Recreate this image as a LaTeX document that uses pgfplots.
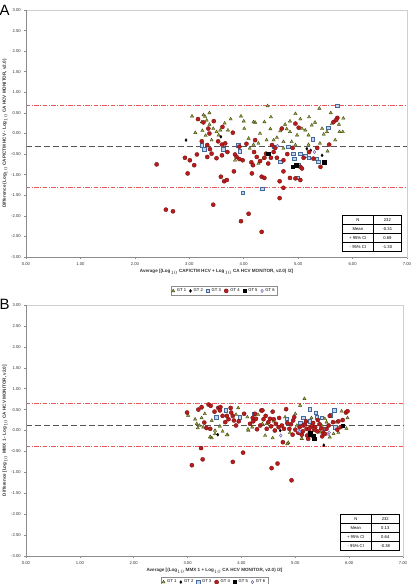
\documentclass[border=0pt]{standalone}
\usepackage{pgfplots}
\pgfplotsset{compat=1.18}
\usepackage{fontspec}
\setmainfont{Liberation Sans}
\usepackage{array}

\definecolor{gtone}{HTML}{A3A83A}
\definecolor{gtoneedge}{HTML}{3A4412}
\definecolor{gtfour}{HTML}{B81C1C}
\definecolor{gtfouredge}{HTML}{6E0C0C}
\definecolor{gtthree}{HTML}{C3D6EE}
\definecolor{gtthreeedge}{HTML}{44699A}
\definecolor{gtsix}{HTML}{DCD0F2}
\definecolor{gtsixedge}{HTML}{6A5AA8}
\definecolor{limitred}{HTML}{E8585C}
\definecolor{meangray}{HTML}{555555}
\definecolor{axisgray}{HTML}{8C8C8C}
\definecolor{framegray}{HTML}{CFCFCF}
\definecolor{textgray}{HTML}{333333}

\newcommand{\tickfont}{\fontsize{4.2}{5}\selectfont}
\newcommand{\labfont}{\fontsize{4.6}{5.5}\selectfont\bfseries}

\pgfplotsset{
  gtp/.style={only marks,
    legend image code/.code={\draw[mark repeat=2,mark phase=2,##1]
      plot coordinates {(0cm,0cm) (0.07cm,0cm) (0.14cm,0cm)};}},
  gt1/.style={gtp, mark=triangle*, mark size=1.9pt,
    mark options={fill=gtone, draw=gtoneedge, line width=0.35pt}},
  gt2/.style={gtp, mark=diamond*, mark size=1.6pt,
    mark options={fill=black, draw=black, line width=0.2pt}},
  gt3/.style={gtp, mark=square*, mark size=1.75pt,
    mark options={fill=gtthree, draw=gtthreeedge, line width=0.45pt}},
  gt4/.style={gtp, mark=*, mark size=2.1pt,
    mark options={fill=gtfour, draw=gtfouredge, line width=0.3pt}},
  gt5/.style={gtp, mark=square*, mark size=1.75pt,
    mark options={fill=black, draw=black, line width=0.3pt}},
  gt6/.style={gtp, mark=diamond*, mark size=1.8pt,
    mark options={fill=gtsix, draw=gtsixedge, line width=0.35pt}},
  limitline/.style={draw=limitred, line width=0.8pt,
    dash pattern=on 4.5pt off 1.5pt on 1pt off 1.5pt, forget plot},
  meanline/.style={draw=meangray, line width=0.6pt,
    dash pattern=on 6pt off 3pt, forget plot},
  blandaltman/.style={
    scale only axis,
    xmin=0, xmax=7, ymin=-3, ymax=3,
    xtick={0,1,2,3,4,5,6,7},
    ytick={-3,-2.5,-2,-1.5,-1,-0.5,0,0.5,1,1.5,2,2.5,3},
    xtick pos=bottom, ytick pos=left,
    tick align=outside,
    major tick length=2.2bp,
    tick style={axisgray, line width=0.5pt},
    axis line style={framegray, line width=0.6pt},
    tick label style={font=\tickfont, text=textgray},
    /pgf/number format/.cd, fixed, fixed zerofill, precision=2,
      assume math mode=true,
    /pgfplots/.cd,
    xticklabel style={yshift=0.5bp},
    yticklabel style={xshift=0.5bp},
    xlabel style={font=\labfont, text=textgray, yshift=2.5bp},
    ylabel style={font=\labfont, text=textgray, yshift=-3bp},
    legend style={font=\fontsize{4.2}{5}\selectfont, draw=axisgray,
      line width=0.4pt, inner sep=0.6pt, legend columns=6,
      /tikz/every even column/.append style={column sep=1.2pt}},
    legend cell align=left,
    clip=false,
  },
}

\pgfplotstableread{
x y
3.05 0.42
3.26 0.45
3.29 0.41
3.37 0.50
3.32 0.32
3.23 0.28
3.37 0.22
3.44 0.12
3.11 0.02
3.24 0.07
3.50 0.04
3.54 -0.04
3.57 0.08
3.71 0.08
3.76 0.35
3.95 0.42
4.01 0.12
4.09 -0.12
4.11 -0.36
3.84 -0.65
4.21 0.27
3.41 -0.16
4.44 0.67
5.39 0.61
4.38 0.28
4.49 0.11
4.30 0.00
4.18 -0.27
4.27 -0.24
4.42 -0.16
4.61 -0.10
4.67 0.06
4.73 -0.20
4.79 0.11
4.85 0.04
4.88 -0.20
4.98 -0.04
5.04 0.35
5.07 0.12
5.13 0.08
5.19 -0.04
5.25 0.20
5.31 0.27
5.44 0.12
5.47 -0.02
5.53 0.04
5.62 0.24
5.68 -0.16
5.76 0.04
5.83 0.37
5.82 0.04
5.54 -0.43
4.27 -0.73
4.36 -0.61
4.73 -0.36
4.95 -0.28
4.55 -0.16
5.40 -0.24
5.19 -0.27
4.76 0.22
4.85 0.30
4.18 0.28
3.65 0.25
4.00 0.30
4.50 0.40
4.95 0.48
5.20 0.40
5.60 0.50
5.75 0.22
3.30 -0.05
}\AgtOne

\pgfplotstableread{
x y
2.94 -0.16
3.58 -0.08
5.16 -0.37
5.23 -0.41
5.44 -0.53
}\AgtTwo

\pgfplotstableread{
x y
3.23 -0.28
3.27 -0.38
3.62 -0.38
3.90 -0.28
3.93 -0.43
3.98 -1.44
4.56 -0.32
4.67 -0.69
4.82 -0.32
4.91 -0.49
4.93 -0.61
5.01 -0.77
5.04 -0.49
5.13 -0.54
5.19 -0.59
5.27 -0.14
5.34 -0.61
5.37 -0.69
5.55 0.14
4.99 -1.08
4.34 -1.34
5.72 0.67
}\AgtThree

\pgfplotstableread{
x y
3.16 0.35
3.26 0.27
3.35 0.12
3.37 0.00
3.61 0.16
3.23 -0.19
3.33 -0.28
3.38 -0.38
3.41 -0.49
3.33 -0.57
3.14 -0.51
2.92 -0.59
3.01 -0.65
3.09 -0.77
2.97 -0.97
2.40 -0.75
3.53 -0.19
3.60 -0.27
3.66 -0.24
3.60 -0.53
3.84 -0.51
3.87 -0.57
3.92 -0.62
3.98 -0.65
3.92 -0.32
3.82 -0.92
3.58 -1.05
3.64 -1.16
3.69 -1.13
4.14 -0.70
4.15 -0.97
4.19 -0.45
2.57 -1.85
2.70 -1.89
3.44 -1.73
4.09 -1.95
3.95 -2.13
4.95 0.24
5.01 0.14
4.70 0.12
5.65 0.28
5.72 0.38
5.70 0.33
5.57 -0.27
4.24 -0.57
4.30 -0.67
4.38 -0.59
4.41 -0.49
4.45 -0.73
4.17 -0.77
4.33 -1.05
4.38 -1.08
4.66 -1.16
4.73 -1.32
4.66 -1.57
4.33 -2.39
4.52 -0.28
4.58 -0.35
4.73 -0.65
4.73 -0.92
4.95 -1.09
5.04 -1.13
5.04 -0.81
5.10 -0.59
5.07 -0.85
5.28 -0.61
5.41 -0.81
4.85 -1.08
4.61 -0.59
4.50 -0.59
4.21 -0.16
4.55 -0.45
4.80 -0.50
4.90 -0.35
5.20 -0.45
5.35 -0.35
3.70 -0.45
3.50 -0.60
4.05 -0.25
3.80 0.02
3.45 0.30
}\AgtFour

\pgfplotstableread{
x y
4.45 -0.49
4.90 -0.81
4.96 -0.77
5.48 -0.70
}\AgtFive

\pgfplotstableread{
x y
4.62 -0.30
5.30 -0.45
}\AgtSix

\pgfplotstableread{
x y
3.01 0.36
3.14 0.27
3.17 0.16
3.22 0.12
3.26 0.30
3.32 0.40
3.29 0.08
3.19 0.06
3.45 0.24
3.51 0.00
3.51 -0.08
3.42 -0.16
3.45 -0.18
3.65 -0.02
3.74 -0.10
3.94 0.54
4.11 0.32
4.13 0.00
4.31 0.38
4.44 -0.12
4.39 0.16
5.17 0.76
5.09 0.60
4.58 -0.18
4.87 -0.29
5.12 -0.20
5.37 -0.20
5.64 -0.16
5.71 -0.08
5.86 0.46
5.97 0.30
4.81 0.32
5.49 0.12
5.58 0.20
5.76 0.20
5.03 0.12
5.46 -0.04
4.47 0.16
3.42 -0.15
3.73 -0.11
4.12 0.03
4.85 -0.32
5.12 -0.19
5.35 -0.21
5.95 0.05
4.60 0.22
4.90 -0.05
5.00 0.40
5.30 0.30
5.55 0.28
5.80 -0.05
4.20 0.08
3.90 0.38
3.60 0.10
}\BgtOne

\pgfplotstableread{
x y
3.27 0.54
3.56 -0.10
5.53 -0.35
4.72 0.00
}\BgtTwo

\pgfplotstableread{
x y
3.53 0.32
3.71 0.48
3.97 0.32
4.23 0.40
5.27 0.51
5.38 0.43
5.40 0.32
5.49 0.30
5.66 0.36
5.72 0.48
4.84 0.28
5.15 0.30
5.27 0.22
5.09 0.19
5.55 0.04
5.74 0.08
5.08 -0.04
}\BgtThree

\pgfplotstableread{
x y
2.99 0.43
3.26 0.56
3.39 0.62
3.43 0.59
3.57 0.54
3.61 0.56
3.60 0.48
3.65 0.35
3.73 0.35
3.76 0.27
3.81 0.43
3.84 0.35
3.86 0.24
3.90 0.12
3.80 0.54
3.31 0.19
3.35 0.06
3.42 0.04
3.25 -0.42
3.28 -0.69
3.08 -0.83
4.03 -0.53
3.84 -0.75
4.16 0.16
4.21 0.30
4.27 0.28
4.29 0.03
4.37 0.48
4.22 0.22
4.39 0.48
4.83 0.51
4.53 0.28
4.60 0.27
4.64 0.16
4.69 0.08
4.75 0.12
4.79 0.04
4.96 0.24
4.95 -0.10
5.12 -0.10
5.21 0.04
5.27 -0.04
5.37 0.08
5.41 -0.02
5.52 -0.05
5.64 0.35
5.80 0.22
5.84 0.08
5.94 0.43
5.97 0.46
4.77 -0.28
4.67 -0.79
4.56 -0.90
4.93 -1.19
4.41 0.27
4.47 0.04
4.89 0.04
5.15 0.12
5.31 -0.12
5.24 -0.20
5.58 0.04
5.00 0.02
5.05 -0.05
5.18 0.15
5.22 -0.12
5.30 0.10
5.35 0.02
5.45 0.15
5.50 -0.14
4.92 0.15
4.55 0.10
4.62 0.00
4.50 0.20
4.25 0.40
4.35 0.12
4.45 0.35
4.58 0.45
4.70 0.30
4.85 0.18
4.98 0.32
5.08 0.08
5.14 -0.02
5.20 0.22
5.26 0.05
5.33 0.18
5.42 0.25
5.48 0.05
5.55 -0.08
5.62 0.12
5.70 0.20
5.78 0.02
5.88 0.25
3.95 0.22
4.05 0.40
3.70 0.20
3.50 0.45
3.20 0.50
}\BgtFour

\pgfplotstableread{
x y
5.27 -0.10
5.34 -0.12
5.88 0.11
5.35 -0.20
5.28 -0.05
}\BgtFive

\pgfplotstableread{
x y
4.73 -0.12
5.08 -0.02
5.61 -0.08
5.05 0.00
5.63 -0.05
}\BgtSix

% summary box drawn in the lower right corner of each panel
\newcommand{\statbox}[4]{%
  {\fontsize{4.2}{5}\selectfont\color{black}%
  \renewcommand{\arraystretch}{1.7}%
  \setlength{\arrayrulewidth}{0.5pt}%
  \begin{tabular}{|@{}wc{30bp}@{}|@{}wc{28bp}@{}|}
  \hline
  N & #1\\ \hline
  Mean & #2\\ \hline
  + 95\% CI & #3\\ \hline
  - 95\% CI & #4\\ \hline
  \end{tabular}}}

\begin{document}
\begin{tikzpicture}
\path[use as bounding box] (0bp,0bp) rectangle (411bp,584bp);

\node[anchor=base west, inner sep=0, font=\fontsize{15}{15}\selectfont] at (-0.5bp,568bp) {A};
\node[anchor=base west, inner sep=0, font=\fontsize{15}{15}\selectfont] at (-0.5bp,274bp) {B};

% ---- Panel A: CAP/CTM vs CA HCV MONITOR
\begin{axis}[blandaltman,
  width=381bp, height=247bp,
  at={(26bp,327bp)}, anchor=south west,
  xlabel={Average [(Log$_{10}$ CAP/CTM HCV + Log$_{10}$ CA HCV MONITOR, v2.0) /2]},
  ylabel={Difference (Log$_{10}$ CAP/CTM HCV - Log$_{10}$ CA HCV MONITOR, v2.0)},
  legend style={at={(0.52,-0.117)}, anchor=north},
]
\addplot[limitline] coordinates {(0,0.69) (7,0.69)};
\addplot[limitline] coordinates {(0,-1.30) (7,-1.30)};
\addplot[meanline] coordinates {(0,-0.31) (7,-0.31)};
\addplot[gt1] table {\AgtOne};   \addlegendentry{GT 1}
\addplot[gt2] table {\AgtTwo};   \addlegendentry{GT 2}
\addplot[gt3] table {\AgtThree}; \addlegendentry{GT 3}
\addplot[gt4] table {\AgtFour};  \addlegendentry{GT 4}
\addplot[gt5] table {\AgtFive};  \addlegendentry{GT 5}
\addplot[gt6] table {\AgtSix};   \addlegendentry{GT 6}
\draw[axisgray, line width=0.8pt] (rel axis cs:0,1) -- (rel axis cs:0,0) -- (rel axis cs:1,0);
\node[anchor=south east, inner sep=0] at (rel axis cs:0.987,0.02) {\statbox{232}{-0.31}{0.69}{-1.30}};
\end{axis}

% ---- Panel B: MMX 1 vs CA HCV MONITOR
\begin{axis}[blandaltman,
  width=377bp, height=251bp,
  at={(26bp,28bp)}, anchor=south west,
  xlabel={Average [(Log$_{10}$ MMX 1 + Log$_{10}$ CA HCV MONITOR, v2.0) /2]},
  ylabel={Difference [Log$_{10}$ MMX 1 - Log$_{10}$ CA HCV MONITOR, v2.0]},
  legend style={at={(0.5,-0.084)}, anchor=north},
]
\addplot[limitline] coordinates {(0,0.64) (7,0.64)};
\addplot[limitline] coordinates {(0,-0.38) (7,-0.38)};
\addplot[meanline] coordinates {(0,0.13) (7,0.13)};
\addplot[gt1] table {\BgtOne};   \addlegendentry{GT 1}
\addplot[gt2] table {\BgtTwo};   \addlegendentry{GT 2}
\addplot[gt3] table {\BgtThree}; \addlegendentry{GT 3}
\addplot[gt4] table {\BgtFour};  \addlegendentry{GT 4}
\addplot[gt5] table {\BgtFive};  \addlegendentry{GT 5}
\addplot[gt6] table {\BgtSix};   \addlegendentry{GT 6}
\draw[axisgray, line width=0.8pt] (rel axis cs:0,1) -- (rel axis cs:0,0) -- (rel axis cs:1,0);
\node[anchor=south east, inner sep=0] at (rel axis cs:0.992,0.02) {\statbox{232}{0.13}{0.64}{-0.38}};
\end{axis}
\end{tikzpicture}
\end{document}
